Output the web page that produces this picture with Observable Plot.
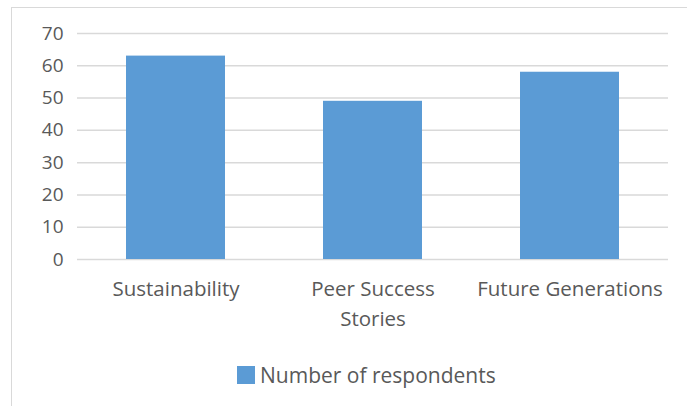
<!DOCTYPE html>
<html>
<head>
<meta charset="utf-8">
<script src="https://cdn.jsdelivr.net/npm/d3@7"></script>
<script src="https://cdn.jsdelivr.net/npm/@observablehq/plot@0.6"></script>
<style>
  html, body { margin: 0; padding: 0; background: #fff; }
  #wrap { position: relative; width: 687px; height: 406px; overflow: hidden; font-family: "Open Sans", Lato, sans-serif; }
  #frame { position: absolute; left: 11px; top: 7px; width: 700px; height: 420px; border-top: 1.5px solid #d9d9d9; border-left: 1.5px solid #d9d9d9; box-sizing: border-box; }
  #chart { position: absolute; left: 0; top: 0; }
  #legend { position: absolute; left: 237px; top: 361px; display: flex; align-items: center; font-size: 21px; color: #595959; }
  #legend .sw { width: 18px; height: 18px; background: #5b9bd5; margin-right: 5px; }
</style>
</head>
<body>
<div id="wrap">
  <div id="frame"></div>
  <div id="chart"></div>
  <div id="legend"><span class="sw"></span><span id="legtext"></span></div>
</div>
<script>
const categories = ["Sustainability", "Peer Success Stories", "Future Generations"];
const respondents = [63, 49, 58];
const yTicks = [0, 10, 20, 30, 40, 50, 60, 70];
const tickLabels = {"Sustainability": "Sustainability", "Peer Success Stories": "Peer Success\nStories", "Future Generations": "Future Generations"};
const seriesName = "Number of respondents";

const data = categories.map((c, i) => ({category: c, value: respondents[i]}));

const chart = Plot.plot({
  width: 687,
  height: 340,
  marginLeft: 77,
  marginRight: 19,
  marginTop: 33,
  marginBottom: 81,
  style: {fontFamily: "'Open Sans', Lato, sans-serif", fontSize: "19px", color: "#595959", background: "transparent"},
  x: {domain: categories, paddingInner: 0.5, paddingOuter: 0.25},
  y: {domain: [0, 70]},
  marks: [
    Plot.gridY(yTicks, {stroke: "#d9d9d9", strokeOpacity: 1, strokeWidth: 1.5}),
    Plot.barY(data, {x: "category", y: "value", fill: "#5b9bd5"}),
    Plot.axisY(yTicks, {tickSize: 0, tickPadding: 14, fill: "#595959", fontSize: 19, label: null}),
    Plot.axisX({tickSize: 0, tickPadding: 15, fill: "#595959", fontSize: 20.5, label: null, lineHeight: 1.47, tickFormat: d => tickLabels[d]})
  ]
});
document.getElementById("chart").appendChild(chart);
document.getElementById("legtext").textContent = seriesName;
</script>
</body>
</html>
